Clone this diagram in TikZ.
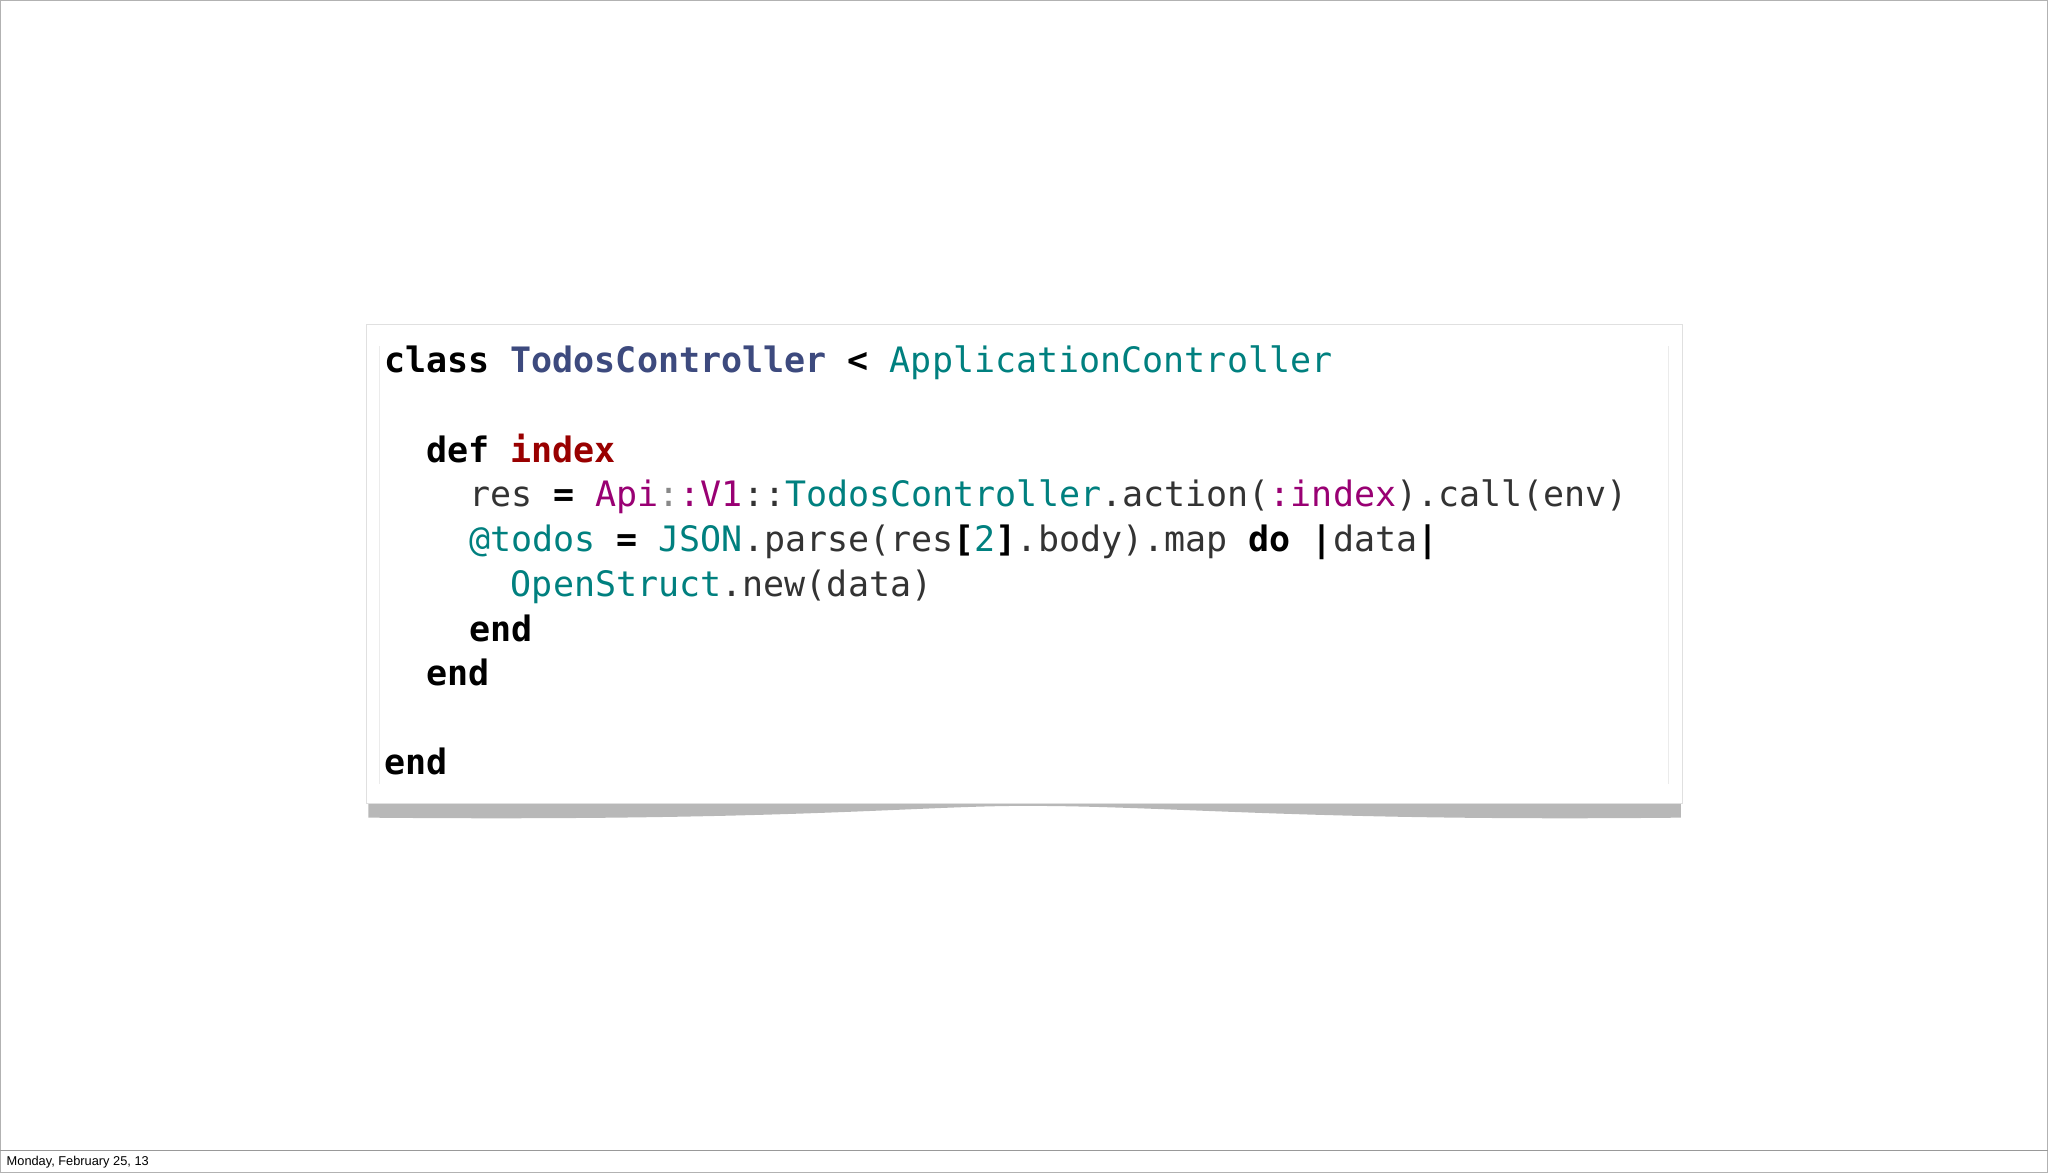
\documentclass[tikz,border=0pt]{standalone}
\usepackage{fontspec}
\setmonofont{DejaVu Sans Mono}
\setsansfont{Liberation Sans}
\definecolor{cslate}{HTML}{3D4A7E}
\definecolor{cteal}{HTML}{00807F}
\definecolor{cred}{HTML}{990000}
\definecolor{cpurp}{HTML}{990073}
\definecolor{cgray}{HTML}{888888}
\definecolor{ctext}{HTML}{333333}
\begin{document}
\begin{tikzpicture}[x=1.30612pt,y=-1.30612pt,
  code/.style={anchor=base west,inner sep=0pt,font=\fontsize{35}{40}\ttfamily,text=ctext}]
\useasboundingbox (0,0) rectangle (1568,898);
\draw[gray!60,line width=0.6pt] (0.5,0.5) rectangle (1567.5,897.5);
\draw[gray!80,line width=0.8pt] (0,881) -- (1568,881);
\node[anchor=base west,inner sep=0pt,font=\sffamily\fontsize{12.8}{14}\selectfont] (foot) at (5,892) {Monday, February 25, 13};
% shadow
\fill[black!28] (282,612) .. controls (600,618) and (700,615) .. (785,614) .. controls (900,615) and (1000,618) .. (1287,612) -- (1287,626) .. controls (1000,629) and (900,617) .. (785,617) .. controls (700,617) and (600,629) .. (282,626) -- cycle;
\node[draw=black!12,fill=white,minimum width=1008*1.30612pt,minimum height=367*1.30612pt,anchor=north west,inner sep=0pt] (card) at (280,248) {};
\draw[black!8] (1277,265) -- (1277,600);
\draw[black!8] (290,265) -- (290,600);
\node[code] (l1) at (294,285) {\textbf{\color{black}class} \textcolor{cslate}{\textbf{TodosController}} \textbf{\color{black}<} \textcolor{cteal}{ApplicationController}};
\node[code] (l2) at (326,354) {\textbf{\color{black}def} \textcolor{cred}{\textbf{index}}};
\node[code] (l3) at (359,388) {res \textbf{\color{black}=} \textcolor{cpurp}{Api}\textcolor{cgray}{:}\textcolor{cpurp}{:V1}::\textcolor{cteal}{TodosController}.action(\textcolor{cpurp}{:index}).call(env)};
\node[code] (l4) at (359,422) {\textcolor{cteal}{@todos} \textbf{\color{black}=} \textcolor{cteal}{JSON}.parse(res\textbf{\color{black}[}\textcolor{cteal}{2}\textbf{\color{black}]}.body).map \textbf{\color{black}do} \textbf{\color{black}|}data\textbf{\color{black}|}};
\node[code] (l5) at (391,457) {\textcolor{cteal}{OpenStruct}.new(data)};
\node[code] (l6) at (359,491) {\textbf{\color{black}end}};
\node[code] (l7) at (326,525) {\textbf{\color{black}end}};
\node[code] (l8) at (294,593) {\textbf{\color{black}end}};
\end{tikzpicture}
\end{document}
